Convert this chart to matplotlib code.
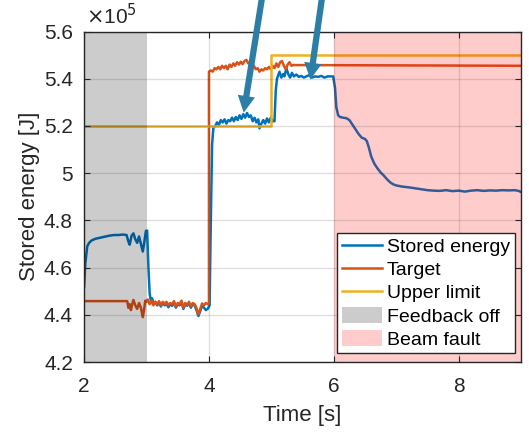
import matplotlib
matplotlib.use('Agg')
import matplotlib.pyplot as plt

plt.rcParams['font.family'] = ['Liberation Sans', 'DejaVu Sans']

# stored energy [x1e5 J]
t_energy = [2.00, 2.02, 2.05, 2.08, 2.12, 2.18, 2.25, 2.32, 2.40, 2.48, 2.55, 2.62, 2.68, 2.71, 2.73,
            2.76, 2.79, 2.82, 2.85, 2.88, 2.91, 2.94, 2.96, 2.99, 3.01, 3.03, 3.05, 3.07, 3.09, 3.11,
            3.14, 3.17, 3.20, 3.23, 3.26, 3.29, 3.32, 3.35, 3.38, 3.41, 3.44, 3.47, 3.50, 3.53, 3.56,
            3.59, 3.62, 3.65, 3.68, 3.71, 3.74, 3.77, 3.80, 3.83, 3.86, 3.89, 3.92, 3.95, 3.98, 4.01,
            4.03, 4.05, 4.07, 4.10, 4.13, 4.16, 4.19, 4.22, 4.25, 4.28, 4.31, 4.34, 4.37, 4.40, 4.43,
            4.46, 4.49, 4.52, 4.55, 4.58, 4.61, 4.64, 4.67, 4.70, 4.73, 4.76, 4.79, 4.81, 4.84, 4.87,
            4.90, 4.93, 4.96, 4.99, 5.02, 5.05, 5.07, 5.09, 5.11, 5.13, 5.16, 5.19, 5.21, 5.24, 5.27,
            5.30, 5.33, 5.36, 5.40, 5.44, 5.48, 5.52, 5.56, 5.60, 5.65, 5.70, 5.75, 5.80, 5.85, 5.90,
            5.95, 5.99, 6.02, 6.04, 6.07, 6.10, 6.15, 6.20, 6.25, 6.30, 6.35, 6.40, 6.45, 6.50, 6.53,
            6.56, 6.60, 6.65, 6.70, 6.75, 6.80, 6.85, 6.90, 6.95, 7.00, 7.10, 7.20, 7.30, 7.40, 7.50,
            7.60, 7.70, 7.80, 7.90, 8.00, 8.10, 8.20, 8.30, 8.40, 8.50, 8.60, 8.70, 8.80, 8.90, 8.96,
            9.00]
energy = [4.52, 4.62, 4.69, 4.705, 4.715, 4.722, 4.726, 4.73, 4.735, 4.738, 4.738, 4.740, 4.738, 4.71, 4.697,
          4.735, 4.745, 4.72, 4.705, 4.732, 4.70, 4.668, 4.70, 4.755, 4.757, 4.60, 4.49, 4.46, 4.47, 4.445,
          4.455, 4.44, 4.45, 4.435, 4.45, 4.44, 4.447, 4.432, 4.445, 4.438, 4.452, 4.43, 4.445, 4.44, 4.455,
          4.425, 4.445, 4.438, 4.45, 4.43, 4.445, 4.44, 4.42, 4.395, 4.415, 4.44, 4.43, 4.42, 4.425, 4.44,
          4.80, 5.12, 5.19, 5.20, 5.215, 5.205, 5.225, 5.215, 5.228, 5.21, 5.225, 5.22, 5.235, 5.22, 5.238,
          5.225, 5.245, 5.23, 5.25, 5.235, 5.255, 5.238, 5.245, 5.22, 5.235, 5.215, 5.228, 5.19, 5.21, 5.225,
          5.21, 5.232, 5.215, 5.235, 5.22, 5.22, 5.35, 5.40, 5.415, 5.43, 5.405, 5.42, 5.41, 5.445, 5.42,
          5.405, 5.425, 5.41, 5.418, 5.408, 5.412, 5.405, 5.41, 5.415, 5.405, 5.41, 5.408, 5.412, 5.405, 5.41,
          5.41, 5.41, 5.36, 5.28, 5.245, 5.238, 5.235, 5.233, 5.225, 5.205, 5.185, 5.165, 5.15, 5.145, 5.135,
          5.11, 5.07, 5.04, 5.02, 5.003, 4.99, 4.975, 4.962, 4.953, 4.948, 4.943, 4.94, 4.936, 4.932, 4.928,
          4.926, 4.925, 4.928, 4.924, 4.926, 4.922, 4.926, 4.928, 4.925, 4.927, 4.926, 4.928, 4.927, 4.928, 4.925,
          4.92]

# target [x1e5 J]
t_target = [2.00, 2.69, 2.71, 2.73, 2.75, 2.77, 2.79, 2.82, 2.85, 2.88, 2.91, 2.94, 2.96, 2.98, 3.00,
            3.02, 3.05, 3.08, 3.11, 3.14, 3.17, 3.20, 3.23, 3.26, 3.29, 3.32, 3.35, 3.38, 3.41, 3.44,
            3.47, 3.50, 3.53, 3.56, 3.59, 3.62, 3.65, 3.68, 3.71, 3.74, 3.77, 3.80, 3.83, 3.86, 3.89,
            3.92, 3.95, 3.98, 4.00, 4.00, 4.03, 4.06, 4.09, 4.12, 4.15, 4.18, 4.21, 4.24, 4.27, 4.30,
            4.33, 4.36, 4.39, 4.42, 4.45, 4.48, 4.51, 4.54, 4.57, 4.60, 4.63, 4.66, 4.69, 4.72, 4.75,
            4.78, 4.81, 4.84, 4.87, 4.90, 4.93, 4.96, 4.99, 5.02, 5.05, 5.08, 5.11, 5.14, 5.17, 5.20,
            5.23, 5.26, 5.29, 5.32, 5.35, 9.00]
target = [4.458, 4.458, 4.43, 4.445, 4.42, 4.445, 4.463, 4.44, 4.425, 4.45, 4.43, 4.39, 4.42, 4.46, 4.455,
          4.465, 4.445, 4.46, 4.44, 4.455, 4.445, 4.458, 4.44, 4.455, 4.445, 4.455, 4.44, 4.45, 4.445, 4.458,
          4.435, 4.45, 4.445, 4.46, 4.43, 4.45, 4.442, 4.455, 4.437, 4.45, 4.445, 4.43, 4.40, 4.425, 4.448,
          4.44, 4.45, 4.445, 4.45, 5.43, 5.435, 5.43, 5.445, 5.44, 5.45, 5.44, 5.455, 5.445, 5.455, 5.44,
          5.46, 5.45, 5.465, 5.455, 5.47, 5.46, 5.472, 5.462, 5.475, 5.48, 5.465, 5.47, 5.45, 5.455, 5.44,
          5.445, 5.43, 5.44, 5.435, 5.445, 5.44, 5.45, 5.44, 5.455, 5.445, 5.465, 5.45, 5.47, 5.475, 5.455,
          5.44, 5.46, 5.47, 5.455, 5.458, 5.455]

# upper limit [x1e5 J]
t_limit = [2.0, 5.0, 5.0, 9.0]
limit = [5.2, 5.2, 5.5, 5.5]

feedback_off = (2.0, 3.0)
beam_fault = (6.0, 9.0)

fig = plt.figure(figsize=(5.29, 4.32), dpi=100)
ax = fig.add_axes([0.159, 0.162, 0.826, 0.765])

ax.plot(t_energy, energy, color='#0072BD', lw=1.8, label='Stored energy', zorder=1)
ax.plot(t_target, target, color='#D95319', lw=1.8, label='Target', zorder=1)
ax.plot(t_limit, limit, color='#EDB120', lw=1.8, label='Upper limit', zorder=1)
ax.axvspan(*feedback_off, color='black', alpha=0.2, lw=0, label='Feedback off', zorder=1.5)
ax.axvspan(*beam_fault, color='red', alpha=0.2, lw=0, label='Beam fault', zorder=1.5)

ax.set_xlim(2, 9)
ax.set_ylim(4.2, 5.6)
ax.set_xticks([2, 4, 6, 8])
ax.set_yticks([4.2, 4.4, 4.6, 4.8, 5.0, 5.2, 5.4, 5.6])
ax.set_yticklabels(['%g' % v for v in [4.2, 4.4, 4.6, 4.8, 5.0, 5.2, 5.4, 5.6]])
ax.grid(True, color='#262626', alpha=0.15, lw=1)
ax.set_axisbelow(False)
ax.tick_params(direction='in', top=True, right=True, length=4, labelsize=15, colors='#262626')
ax.tick_params(axis='x', pad=11)
ax.tick_params(axis='y', pad=8)
for s in ax.spines.values():
    s.set_color('#262626')
    s.set_linewidth(1.0)
ax.set_xlabel('Time [s]', fontsize=16, color='#262626', labelpad=6)
ax.set_ylabel('Stored energy [J]', fontsize=16, color='#262626', labelpad=3)
ax.text(0.005, 1.01, r'$\times$10$^{5}$', transform=ax.transAxes, fontsize=15,
        color='#262626', ha='left', va='bottom')

leg = ax.legend(loc='lower right', bbox_to_anchor=(0.986, 0.026), fontsize=14, frameon=True,
                fancybox=False, edgecolor='#262626', framealpha=1, handlelength=2.05,
                handleheight=0.9, handletextpad=0.25, borderpad=0.25, labelspacing=0.22,
                borderaxespad=0)
leg.get_frame().set_linewidth(1.0)
leg.set_zorder(5)

arrow_kw = dict(arrowstyle='simple,head_length=1.2,head_width=1.25,tail_width=0.45',
                mutation_scale=10, color='#2c7ea4', lw=0)
ax.annotate('', xy=(4.55, 5.245), xytext=(4.86, 5.76), arrowprops=arrow_kw, annotation_clip=False)
ax.annotate('', xy=(5.62, 5.385), xytext=(5.82, 5.76), arrowprops=arrow_kw, annotation_clip=False)

fig.savefig('out.png', dpi=100)
